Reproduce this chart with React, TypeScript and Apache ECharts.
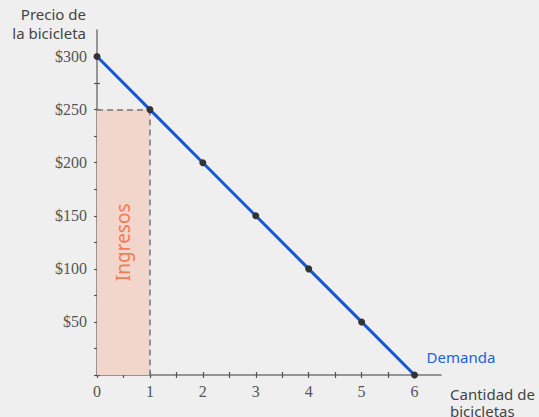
import React, { useEffect, useRef } from "react";
import * as echarts from "echarts";

const quantities = [0, 1, 2, 3, 4, 5, 6];
const prices = [300, 250, 200, 150, 100, 50, 0];
const xTicks = [0, 0.5, 1, 1.5, 2, 2.5, 3, 3.5, 4, 4.5, 5, 5.5, 6];
const xTickLabels = [0, 1, 2, 3, 4, 5, 6];
const yTicks = [0, 25, 50, 75, 100, 125, 150, 175, 200, 225, 250, 275, 300];
const yTickLabels = [50, 100, 150, 200, 250, 300];
const revenueQty = 1;
const revenuePrice = 250;
const xTitle = "Cantidad de\nbicicletas";
const yTitle = "Precio de\nla bicicleta";
const seriesName = "Demanda";
const areaLabel = "Ingresos";

export default function App() {
  const ref = useRef<HTMLDivElement>(null);
  useEffect(() => {
    if (!ref.current) return;
    const chart = echarts.init(ref.current, undefined, { renderer: "svg" });
    const sans = "'Noto Sans', 'Open Sans', sans-serif";
    const serif = "'Liberation Serif', serif";
    const tickStyle = { color: "#555", width: 1.2 };
    const innerX = {
      type: "value",
      min: 0,
      max: 6.5,
      position: "bottom",
      axisLine: { show: false },
      axisTick: { show: true, inside: true, length: 3, lineStyle: tickStyle, customValues: xTicks },
      axisLabel: { show: false },
      splitLine: { show: false },
    };
    const innerY = {
      type: "value",
      min: 0,
      max: 325,
      position: "left",
      axisLine: { show: false },
      axisTick: { show: true, inside: true, length: 3, lineStyle: tickStyle, customValues: yTicks },
      axisLabel: { show: false },
      splitLine: { show: false },
    };
    chart.setOption({
      animation: false,
      backgroundColor: "#efefef",
      grid: { left: 97, right: 98, top: 30, bottom: 42, outerBoundsMode: "none" },
      xAxis: [
        {
          type: "value",
          min: 0,
          max: 6.5,
          name: xTitle,
          nameLocation: "end",
          nameGap: 9,
          nameTextStyle: {
            fontFamily: sans,
            fontSize: 15,
            lineHeight: 17,
            color: "#444",
            align: "left",
            verticalAlign: "top",
            padding: [10, 0, 0, 0],
          },
          axisLine: { lineStyle: { color: "#777", width: 1.5 } },
          axisTick: { show: true, length: 3, lineStyle: tickStyle, customValues: xTicks },
          axisLabel: {
            margin: 8,
            fontFamily: serif,
            fontSize: 16,
            color: "#555",
            customValues: xTickLabels,
            formatter: (v: number) => String(v),
          },
          splitLine: { show: false },
        },
        innerX,
      ],
      yAxis: [
        {
          type: "value",
          min: 0,
          max: 325,
          name: yTitle,
          nameLocation: "end",
          nameGap: 7,
          nameTextStyle: {
            fontFamily: sans,
            fontSize: 15,
            lineHeight: 19,
            color: "#444",
            align: "right",
            verticalAlign: "middle",
            padding: [0, 11, 0, 0],
          },
          axisLine: { show: true, lineStyle: { color: "#777", width: 1.5 } },
          axisTick: { show: true, length: 3, lineStyle: tickStyle, customValues: yTicks },
          axisLabel: {
            margin: 10,
            fontFamily: serif,
            fontSize: 16,
            color: "#555",
            customValues: yTickLabels,
            formatter: (v: number) => "$" + v,
          },
          splitLine: { show: false },
        },
        innerY,
      ],
      series: [
        {
          name: seriesName,
          type: "line",
          data: quantities.map((q, i) => [q, prices[i]]),
          symbol: "circle",
          symbolSize: 7,
          itemStyle: { color: "#333" },
          lineStyle: { color: "#1656d9", width: 3 },
          z: 5,
          endLabel: {
            show: true,
            formatter: seriesName,
            color: "#1d5fe0",
            fontFamily: sans,
            fontSize: 15,
            offset: [4, -18],
          },
          markArea: {
            silent: true,
            itemStyle: { color: "#f2d6cb", borderWidth: 0 },
            label: {
              show: true,
              position: "inside",
              rotate: 90,
              formatter: areaLabel,
              color: "#f27a55",
              fontFamily: sans,
              fontSize: 19,
            },
            data: [[{ coord: [0, 0] }, { coord: [revenueQty, revenuePrice] }]],
          },
          markLine: {
            silent: true,
            symbol: "none",
            label: { show: false },
            lineStyle: { color: "#777", width: 1.5, type: [6, 4] },
            data: [
              [{ coord: [0, revenuePrice] }, { coord: [revenueQty, revenuePrice] }],
              [{ coord: [revenueQty, revenuePrice] }, { coord: [revenueQty, 0] }],
            ],
          },
        },
      ],
    });
    return () => chart.dispose();
  }, []);
  return (
    <div
      ref={ref}
      style={{ position: "fixed", left: 0, top: 0, width: 539, height: 417 }}
    />
  );
}
